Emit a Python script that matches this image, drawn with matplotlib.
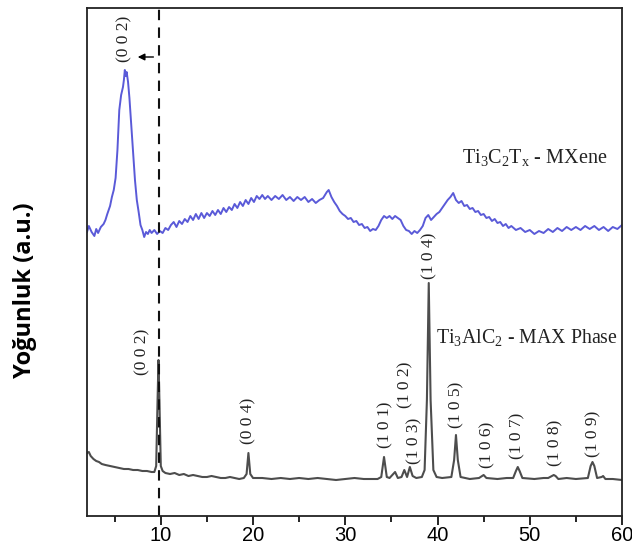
import matplotlib
matplotlib.use("Agg")
import matplotlib.pyplot as plt

# Ti3C2Tx MXene (blue), 2theta vs intensity (a.u.)
mx_2t = [2.0, 2.2, 2.5, 2.8, 3.0, 3.2, 3.5, 3.8, 4.0, 4.2, 4.5, 4.7, 4.9, 5.1, 5.3, 5.5, 5.7, 5.9, 6.0, 6.1,
         6.2, 6.3, 6.45, 6.6, 6.8, 7.0, 7.2, 7.4, 7.6, 7.8, 8.0, 8.2, 8.4, 8.6, 8.8, 9.0, 9.3, 9.6, 9.9, 10.2,
         10.5, 10.8, 11.1, 11.4, 11.7, 12.0, 12.3, 12.6, 12.9, 13.2, 13.5, 13.8, 14.1, 14.4, 14.7, 15.0, 15.3,
         15.6, 15.9, 16.2, 16.5, 16.8, 17.1, 17.4, 17.7, 18.0, 18.3, 18.6, 18.9, 19.2, 19.5, 19.8, 20.1, 20.4,
         20.7, 21.0, 21.3, 21.6, 22.0, 22.4, 22.8, 23.2, 23.6, 24.0, 24.4, 24.8, 25.2, 25.6, 26.0, 26.4, 26.8,
         27.2, 27.6, 28.0, 28.2, 28.5, 28.8, 29.1, 29.4, 29.7, 30.0, 30.3, 30.6, 30.9, 31.2, 31.5, 31.8, 32.1,
         32.4, 32.7, 33.0, 33.3, 33.6, 33.9, 34.2, 34.5, 34.8, 35.1, 35.4, 35.7, 36.0, 36.3, 36.6, 36.9, 37.2,
         37.5, 37.8, 38.1, 38.4, 38.7, 39.0, 39.3, 39.6, 39.9, 40.2, 40.5, 40.8, 41.1, 41.4, 41.7, 42.0, 42.3,
         42.6, 42.9, 43.2, 43.5, 43.8, 44.1, 44.4, 44.7, 45.0, 45.3, 45.6, 45.9, 46.2, 46.5, 46.8, 47.1, 47.4,
         47.7, 48.0, 48.5, 49.0, 49.5, 50.0, 50.5, 51.0, 51.5, 52.0, 52.5, 53.0, 53.5, 54.0, 54.5, 55.0, 55.5,
         56.0, 56.5, 57.0, 57.5, 58.0, 58.5, 59.0, 59.5, 60.0]
mx_int = [284, 290, 284, 280, 287, 283, 289, 292, 296, 302, 310, 319, 326, 338, 366, 406, 421, 429, 436, 446,
          440, 444, 434, 418, 391, 364, 336, 316, 304, 291, 286, 279, 284, 282, 286, 283, 286, 282, 285, 283,
          288, 286, 291, 294, 289, 295, 292, 297, 294, 300, 296, 302, 297, 303, 298, 303, 300,
          305, 301, 306, 302, 308, 304, 309, 306, 312, 308, 314, 310, 316, 312, 318, 314, 320,
          317, 321, 317, 320, 316, 320, 317, 321, 316, 319, 315, 319, 316, 319, 314, 317, 313,
          316, 318, 324, 326, 319, 314, 310, 305, 302, 300, 297, 298, 294, 295, 291, 292, 288,
          289, 285, 287, 286, 290, 296, 300, 298, 300, 297, 300, 298, 296, 290, 286, 285, 282,
          285, 283, 286, 290, 298, 301, 296, 299, 302, 304, 308, 312, 316, 319, 323, 316, 313,
          315, 310, 311, 307, 308, 304, 305, 301, 302, 298, 299, 295, 297, 293, 294, 290, 292,
          288, 290, 286, 288, 284, 286, 282, 285, 283, 287, 284, 288, 285, 289, 286, 289, 286,
          290, 287, 290, 286, 289, 285, 289, 287, 291]

# Ti3AlC2 MAX phase (grey)
max_2t = [2.0, 2.2, 2.4, 2.7, 3.0, 3.3, 3.6, 4.0, 4.5, 5.0, 5.5, 6.0, 6.5, 7.0, 7.5, 8.0, 8.5, 9.0, 9.3,
          9.5, 9.65, 9.75, 9.85, 10.0, 10.2, 10.5, 11.0, 11.5, 12.0, 12.5, 13.0, 13.5, 14.0, 14.5, 15.0, 15.5,
          16.0, 16.5, 17.0, 17.5, 18.0, 18.5, 19.0, 19.3, 19.5, 19.7, 20.0, 21.0, 22.0, 23.0, 24.0, 25.0,
          26.0, 27.0, 28.0, 29.0, 30.0, 31.0, 32.0, 33.0, 33.5, 33.9, 34.2, 34.5, 34.8, 35.4, 35.7, 36.1,
          36.4, 36.7, 37.0, 37.3, 37.7, 38.3, 38.6, 38.85, 39.05, 39.25, 39.55, 39.9, 40.5, 41.5, 41.8, 42.0,
          42.2, 42.5, 43.5, 44.5, 45.0, 45.3, 46.5, 47.5, 48.2, 48.5, 48.7, 48.9, 49.2, 50.5, 51.5, 52.0,
          52.4, 52.6, 52.8, 53.1, 54.0, 55.0, 56.3, 56.6, 56.8, 57.0, 57.3, 57.8, 57.95, 58.2, 59.0, 60.0]
max_int = [63, 64, 60, 57, 55, 54, 52, 51, 50, 49, 48, 47, 47, 46, 46, 45, 45, 44, 44,
           50, 116, 156, 116, 50, 45, 43, 42, 43, 41, 42, 40, 41, 40, 39, 39, 40,
           39, 38, 38, 39, 38, 37, 38, 42, 63, 42, 38, 38, 37, 38, 37, 38,
           37, 38, 37, 36, 37, 38, 37, 37, 37, 39, 59, 39, 38, 44, 38, 39,
           46, 39, 49, 40, 38, 39, 46, 116, 233, 116, 46, 39, 38, 39, 56, 81,
           56, 39, 37, 38, 41, 38, 37, 38, 38, 45, 49, 45, 38, 37, 38, 38,
           40, 41, 40, 37, 38, 37, 38, 50, 54, 50, 38, 39, 40, 37, 37, 36]

# peak labels: text, 2theta and intensity at the label centre
max_labels = ["(0 0 2)", "(0 0 4)", "(1 0 1)", "(1 0 2)", "(1 0 3)", "(1 0 4)",
              "(1 0 5)", "(1 0 6)", "(1 0 7)", "(1 0 8)", "(1 0 9)"]
max_lab_x = [8.0, 19.5, 34.3, 36.5, 37.5, 39.1, 42.1, 45.4, 48.7, 52.8, 56.9]
max_lab_y = [164, 95, 91, 131, 75, 260, 111, 71, 80, 73, 82]

plt.rcParams['font.family'] = ['Liberation Serif', 'DejaVu Serif']

fig = plt.figure(figsize=(6.32, 5.45), dpi=100)
ax = fig.add_axes([87 / 632, 1 - 516 / 545, 535 / 632, 508 / 545])

ax.plot(mx_2t, mx_int, color='#5a5ad8', lw=1.4)
ax.plot(max_2t, max_int, color='#4d4d4d', lw=1.5)
ax.axvline(9.8, color='#111111', lw=1.5, ls=(0, (5, 3.5)))

ax.text(6.1, 477, "(0 0 2)", rotation=90, ha='center', va='center', fontsize=12.5, color='#222222')
ax.annotate("", xy=(7.2, 459), xytext=(9.5, 459),
            arrowprops=dict(arrowstyle='-|>', color='black', lw=1.0, mutation_scale=10))
for t, x, y in zip(max_labels, max_lab_x, max_lab_y):
    ax.text(x, y, t, rotation=90, ha='center', va='center', fontsize=12.5, color='#222222')

ax.text(42.7, 358, r"Ti$_\mathregular{3}$C$_\mathregular{2}$T$_\mathregular{x}$ - MXene",
        ha='left', va='center', fontsize=14.5, color='#222222')
ax.text(39.85, 178, r"Ti$_\mathregular{3}$AlC$_\mathregular{2}$ - MAX Phase",
        ha='left', va='center', fontsize=14.3, color='#222222')

ax.set_xlim(2, 60)
ax.set_ylim(0, 508)
ax.set_yticks([])
ax.set_xticks([10, 20, 30, 40, 50, 60])
ax.set_xticks([5, 15, 25, 35, 45, 55], minor=True)
ax.tick_params(axis='x', which='major', length=6.5, width=1.2, direction='out', pad=1,
               labelsize=14.5, labelfontfamily='Liberation Sans')
ax.tick_params(axis='x', which='minor', length=4, width=1.2, direction='out')
for s in ax.spines.values():
    s.set_linewidth(1.3)
    s.set_color('#222222')

fig.text(25 / 632, 1 - 290 / 545, "Yoğunluk (a.u.)", rotation=90, ha='center', va='center',
         fontsize=17, fontweight='bold', family=['Open Sans', 'DejaVu Sans'])

fig.savefig("out.png", dpi=100)
